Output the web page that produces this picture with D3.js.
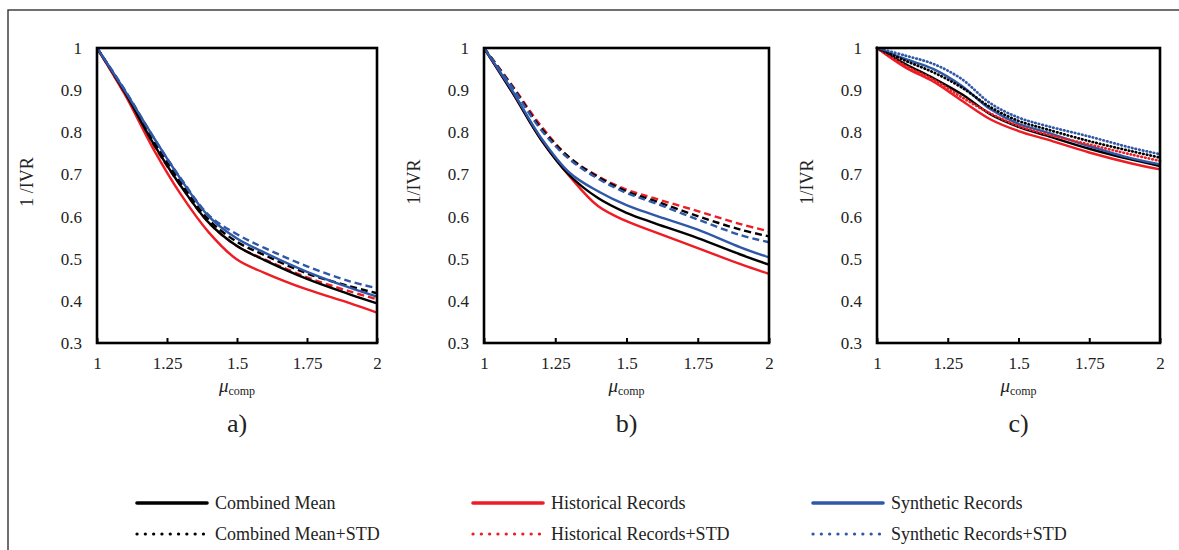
<!DOCTYPE html>
<html>
<head>
<meta charset="utf-8">
<script src="https://cdn.jsdelivr.net/npm/d3@7"></script>
<style>
  html, body { margin: 0; padding: 0; background: #fff; }
  svg { display: block; font-family: "Liberation Serif", "Times New Roman", serif; }
</style>
</head>
<body>
<svg id="fig" width="1179" height="550"></svg>
<script>
// Compression factor values shared by all curves
const muComp = [1, 1.1, 1.2, 1.3, 1.4, 1.5, 1.6, 1.75, 1.9, 2];

// Panel a)
const histA    = [1, 0.889, 0.762, 0.652, 0.562, 0.498, 0.466, 0.427, 0.395, 0.372];
const combA    = [1, 0.894, 0.775, 0.672, 0.585, 0.530, 0.496, 0.452, 0.416, 0.394];
const synA     = [1, 0.898, 0.790, 0.688, 0.600, 0.548, 0.514, 0.469, 0.432, 0.410];
const histStdA = [1, 0.891, 0.772, 0.672, 0.585, 0.530, 0.498, 0.456, 0.423, 0.404];
const combStdA = [1, 0.895, 0.783, 0.680, 0.592, 0.540, 0.508, 0.465, 0.435, 0.418];
const synStdA  = [1, 0.900, 0.790, 0.690, 0.603, 0.558, 0.525, 0.482, 0.447, 0.430];

// Panel b)
const histB    = [1, 0.894, 0.783, 0.696, 0.625, 0.589, 0.563, 0.525, 0.487, 0.464];
const combB    = [1, 0.894, 0.783, 0.698, 0.644, 0.609, 0.584, 0.549, 0.510, 0.486];
const synB     = [1, 0.898, 0.787, 0.704, 0.660, 0.627, 0.603, 0.569, 0.527, 0.503];
const histStdB = [1, 0.910, 0.815, 0.740, 0.696, 0.664, 0.643, 0.613, 0.582, 0.565];
const combStdB = [1, 0.908, 0.810, 0.740, 0.694, 0.660, 0.637, 0.601, 0.569, 0.553];
const synStdB  = [1, 0.906, 0.806, 0.736, 0.690, 0.656, 0.632, 0.593, 0.556, 0.539];

// Panel c)
const histC    = [1, 0.954, 0.920, 0.875, 0.831, 0.803, 0.783, 0.752, 0.726, 0.712];
const combC    = [1, 0.962, 0.928, 0.890, 0.843, 0.813, 0.792, 0.761, 0.735, 0.720];
const synC     = [1, 0.974, 0.950, 0.910, 0.855, 0.820, 0.800, 0.767, 0.738, 0.724];
const histStdC = [1, 0.958, 0.925, 0.883, 0.845, 0.815, 0.795, 0.771, 0.747, 0.732];
const combStdC = [1, 0.970, 0.942, 0.906, 0.860, 0.827, 0.807, 0.779, 0.755, 0.740];
const synStdC  = [1, 0.982, 0.962, 0.926, 0.869, 0.835, 0.815, 0.790, 0.763, 0.748];

const xTicks = [1, 1.25, 1.5, 1.75, 2];
const xTickLabels = ["1", "1.25", "1.5", "1.75", "2"];
const yTicks = [0.3, 0.4, 0.5, 0.6, 0.7, 0.8, 0.9, 1];
const yTickLabels = ["0.3", "0.4", "0.5", "0.6", "0.7", "0.8", "0.9", "1"];
const panelLetters = ["a)", "b)", "c)"];
const yTitles = ["1 /IVR", "1/IVR", "1/IVR"];

const seriesNames = ["Combined Mean", "Historical Records", "Synthetic Records",
                     "Combined Mean+STD", "Historical Records+STD", "Synthetic Records+STD"];
const colors = { comb: "#000000", hist: "#ee1c24", syn: "#2f58a8" };

const panels = [
  { left: 97,  width: 280, std: "dash",
    lines: [["hist", histStdA, true], ["comb", combStdA, true], ["syn", synStdA, true],
            ["hist", histA, false], ["comb", combA, false], ["syn", synA, false]] },
  { left: 484, width: 285, std: "dash",
    lines: [["hist", histStdB, true], ["comb", combStdB, true], ["syn", synStdB, true],
            ["hist", histB, false], ["comb", combB, false], ["syn", synB, false]] },
  { left: 877, width: 283, std: "dot",
    lines: [["hist", histC, false], ["comb", combC, false], ["syn", synC, false],
            ["hist", histStdC, true], ["comb", combStdC, true], ["syn", synStdC, true]] }
];

const svg = d3.select("#fig");
const plotTop = 48, plotH = 295;

// figure frame
svg.append("rect").attr("x", 8).attr("y", 10).attr("width", 1200).attr("height", 600)
  .attr("fill", "none").attr("stroke", "#333").attr("stroke-width", 1.4);

panels.forEach((p, i) => {
  const x = d3.scaleLinear().domain([1, 2]).range([p.left, p.left + p.width]);
  const y = d3.scaleLinear().domain([0.3, 1]).range([plotTop + plotH, plotTop]);
  const g = svg.append("g");

  const line = d3.line().x((d, k) => x(muComp[k])).y(d => y(d)).curve(d3.curveCatmullRom.alpha(0.5));

  p.lines.forEach(([key, vals, isStd]) => {
    const path = g.append("path").datum(vals)
      .attr("d", line).attr("fill", "none")
      .attr("stroke", colors[key]).attr("stroke-width", 2.4);
    if (isStd) {
      if (p.std === "dash") path.attr("stroke-dasharray", "7 4");
      else path.attr("stroke-dasharray", "0.5 3.2").attr("stroke-linecap", "round").attr("stroke-width", 2.7);
    }
  });

  // plot frame
  g.append("rect").attr("x", p.left).attr("y", plotTop).attr("width", p.width).attr("height", plotH)
    .attr("fill", "none").attr("stroke", "#000").attr("stroke-width", 2.6);

  // x axis with inward ticks
  const xAxis = d3.axisBottom(x).tickValues(xTicks).tickSize(-5)
    .tickFormat((d, k) => xTickLabels[k]).tickPadding(14);
  const xa = g.append("g").attr("transform", `translate(0,${plotTop + plotH})`).call(xAxis);
  xa.select(".domain").remove();
  xa.selectAll("line").attr("stroke", "#000").attr("stroke-width", 2);
  xa.selectAll("text").attr("font-size", 17).attr("font-family", "Liberation Serif").attr("fill", "#222");

  // y axis labels
  const yAxis = d3.axisLeft(y).tickValues(yTicks).tickSize(0)
    .tickFormat((d, k) => yTickLabels[k]).tickPadding(15);
  const ya = g.append("g").attr("transform", `translate(${p.left},0)`).call(yAxis);
  ya.select(".domain").remove();
  ya.selectAll("text").attr("font-size", 17).attr("font-family", "Liberation Serif").attr("fill", "#222");

  // y title
  const ytx = p.left - 64;
  svg.append("text").attr("transform", `translate(${ytx},${plotTop + 134}) rotate(-90)`)
    .attr("text-anchor", "middle").attr("font-size", 18).attr("fill", "#222").text(yTitles[i]);

  // x title: mu with subscript
  const cx = p.left + p.width / 2;
  const xt = svg.append("text").attr("x", cx).attr("y", 392).attr("text-anchor", "middle").attr("fill", "#222");
  xt.append("tspan").attr("font-style", "italic").attr("font-size", 19).text("μ");
  xt.append("tspan").attr("font-size", 12).attr("dy", 3).text("comp");

  // panel letter
  svg.append("text").attr("x", cx).attr("y", 432).attr("text-anchor", "middle")
    .attr("font-size", 26).attr("fill", "#222").text(panelLetters[i]);
});

// legend
const legendItems = [
  { name: seriesNames[0], key: "comb", std: false, x: 137, y: 503 },
  { name: seriesNames[1], key: "hist", std: false, x: 473, y: 503 },
  { name: seriesNames[2], key: "syn",  std: false, x: 813, y: 503 },
  { name: seriesNames[3], key: "comb", std: true,  x: 137, y: 534 },
  { name: seriesNames[4], key: "hist", std: true,  x: 473, y: 534 },
  { name: seriesNames[5], key: "syn",  std: true,  x: 813, y: 534 }
];
const lg = svg.append("g");
legendItems.forEach(it => {
  const l = lg.append("line").attr("x1", it.x).attr("x2", it.x + 70)
    .attr("y1", it.y).attr("y2", it.y).attr("stroke", colors[it.key]);
  if (it.std) l.attr("stroke-width", 3.2).attr("stroke-linecap", "round").attr("stroke-dasharray", "0.1 8.2");
  else l.attr("stroke-width", 3.6).attr("stroke-linecap", "round");
  lg.append("text").attr("x", it.x + 78).attr("y", it.y + 6).attr("font-size", 18)
    .attr("fill", "#222").text(it.name);
});
</script>
</body>
</html>
